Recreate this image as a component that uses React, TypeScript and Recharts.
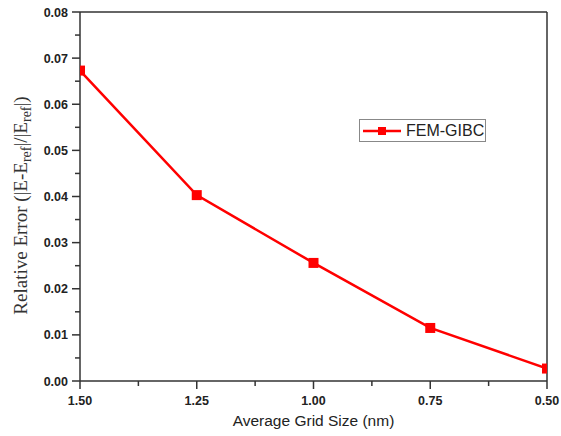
import React from "react";
import * as R from "recharts";
import { LineChart, Line, XAxis, YAxis, ReferenceLine, Legend } from "recharts";

// values
const gridSize = [1.5, 1.25, 1.0, 0.75, 0.5];
const relError = [0.0673, 0.0403, 0.0256, 0.0115, 0.0027];
const xDomain = [0.5, 1.5];
const yDomain = [0, 0.08];
const xTicks = [1.5, 1.375, 1.25, 1.125, 1.0, 0.875, 0.75, 0.625, 0.5];
const yTicks = [
  0, 0.005, 0.01, 0.015, 0.02, 0.025, 0.03, 0.035, 0.04, 0.045, 0.05, 0.055, 0.06, 0.065, 0.07,
  0.075, 0.08,
];
const seriesName = "FEM-GIBC";

const data = gridSize.map((size, i) => ({ size, err: relError[i] }));

const AXIS = "#333";
const RED = "#ff0000";
const TICK_SIZE = 7;
const TICK_MARGIN = 5;
const tickFont = {
  fontFamily: "'Liberation Sans', Arial, sans-serif",
  fontWeight: 700,
  fontSize: 12.5,
  fill: "#222",
};

const lib = R as any;
const usePlotAreaSafe: () => any = lib.usePlotArea ?? (() => undefined);

const YTick = (props: any) => {
  const { x, y, payload } = props;
  const v = payload.value as number;
  const major = Math.round(v * 1000) % 10 === 0;
  const axisX = x + TICK_SIZE + TICK_MARGIN;
  return (
    <g>
      <line x1={axisX} x2={axisX - (major ? 8 : 5)} y1={y} y2={y} stroke={AXIS} strokeWidth={1.5} />
      {major && (
        <text x={axisX - 12} y={y} dy="0.36em" textAnchor="end" {...tickFont}>
          {v.toFixed(2)}
        </text>
      )}
    </g>
  );
};

const XTick = (props: any) => {
  const { x, y, payload } = props;
  const v = payload.value as number;
  const major = Math.round(v * 100) % 25 === 0;
  const axisY = y - TICK_SIZE - TICK_MARGIN;
  return (
    <g>
      <line x1={x} x2={x} y1={axisY} y2={axisY + (major ? 8 : 5)} stroke={AXIS} strokeWidth={1.5} />
      {major && (
        <text x={x} y={axisY + 24} textAnchor="middle" {...tickFont}>
          {v.toFixed(2)}
        </text>
      )}
    </g>
  );
};

// square marker, cut at the plot frame like the original
const Square = (props: any) => {
  const area = usePlotAreaSafe();
  const { cx, cy, payload } = props;
  if (cx == null || cy == null) return null;
  let x0 = cx - 5;
  let x1 = cx + 5;
  let y0 = cy - 5;
  let y1 = cy + 5;
  if (area && area.width) {
    x0 = Math.max(x0, area.x);
    x1 = Math.min(x1, area.x + area.width);
    y0 = Math.max(y0, area.y);
    y1 = Math.min(y1, area.y + area.height);
  } else if (payload) {
    // axis is reversed: the largest size sits on the left edge
    if (payload.size >= xDomain[1]) x0 = cx;
    if (payload.size <= xDomain[0]) x1 = cx;
  }
  return <rect x={x0} y={y0} width={x1 - x0} height={y1 - y0} fill={RED} />;
};

const YLabel = (props: any) => {
  const { viewBox } = props;
  const cx = viewBox.x + 27;
  const cy = viewBox.y + viewBox.height / 2 + 9;
  const sub = { fontSize: 14 };
  return (
    <text
      transform={`translate(${cx},${cy}) rotate(-90)`}
      textAnchor="middle"
      fontFamily="'Liberation Serif', 'Times New Roman', serif"
      fontSize={19}
      fill="#333">
      <tspan>Relative Error  (|E-E</tspan>
      <tspan dy={4} {...sub}>ref</tspan>
      <tspan dy={-4}>|/|E</tspan>
      <tspan dy={4} {...sub}>ref</tspan>
      <tspan dy={-4}>|)</tspan>
    </text>
  );
};

const LegendBox = (props: any) => {
  const item = props.payload?.[0];
  return (
    <div
      style={{
        boxSizing: "border-box",
        width: 127,
        height: 23,
        border: "1px solid #888",
        background: "#fff",
        display: "flex",
        alignItems: "center",
        paddingLeft: 3,
        whiteSpace: "nowrap",
      }}>
      <svg width={40} height={12} style={{ marginRight: 3, flexShrink: 0 }}>
        <line x1={0} x2={38} y1={6} y2={6} stroke={item?.color ?? RED} strokeWidth={2.5} />
        <rect x={15} y={2} width={8} height={8} fill={item?.color ?? RED} />
      </svg>
      <span
        style={{
          fontFamily: "'Liberation Sans', Arial, sans-serif",
          fontSize: 16,
          color: "#222",
        }}>
        {item?.value ?? seriesName}
      </span>
    </div>
  );
};

export default function App() {
  return (
    <div style={{ position: "absolute", left: 0, top: 0, background: "#fff" }}>
      <LineChart width={561} height={436} data={data} margin={{ top: 12, right: 14, bottom: 0, left: 0 }}>
        <XAxis
          dataKey="size"
          type="number"
          domain={xDomain}
          reversed
          allowDataOverflow
          ticks={xTicks}
          interval={0}
          height={55}
          tickSize={TICK_SIZE}
          tickMargin={TICK_MARGIN}
          tickLine={false}
          tick={<XTick />}
          axisLine={{ stroke: AXIS, strokeWidth: 1.5 }}
          label={{
            value: "Average Grid Size (nm)",
            position: "insideBottom",
            offset: 10,
            style: {
              fontFamily: "'Liberation Sans', Arial, sans-serif",
              fontSize: 15.5,
              fill: "#222",
            },
          }}
        />
        <YAxis
          type="number"
          domain={yDomain}
          allowDataOverflow
          ticks={yTicks}
          interval={0}
          width={80}
          tickSize={TICK_SIZE}
          tickMargin={TICK_MARGIN}
          tickLine={false}
          tick={<YTick />}
          axisLine={{ stroke: AXIS, strokeWidth: 1.5 }}
          label={<YLabel />}
        />
        <ReferenceLine y={yDomain[1]} stroke={AXIS} strokeWidth={1.5} />
        <ReferenceLine x={xDomain[0]} stroke={AXIS} strokeWidth={1.5} />
        <Legend
          layout="horizontal"
          verticalAlign="middle"
          align="center"
          content={<LegendBox />}
          wrapperStyle={{ position: "absolute", left: 359, top: 119, width: "auto" }}
        />
        <Line
          type="linear"
          dataKey="err"
          name={seriesName}
          stroke={RED}
          strokeWidth={2.5}
          dot={<Square />}
          activeDot={false}
          isAnimationActive={false}
        />
      </LineChart>
    </div>
  );
}
